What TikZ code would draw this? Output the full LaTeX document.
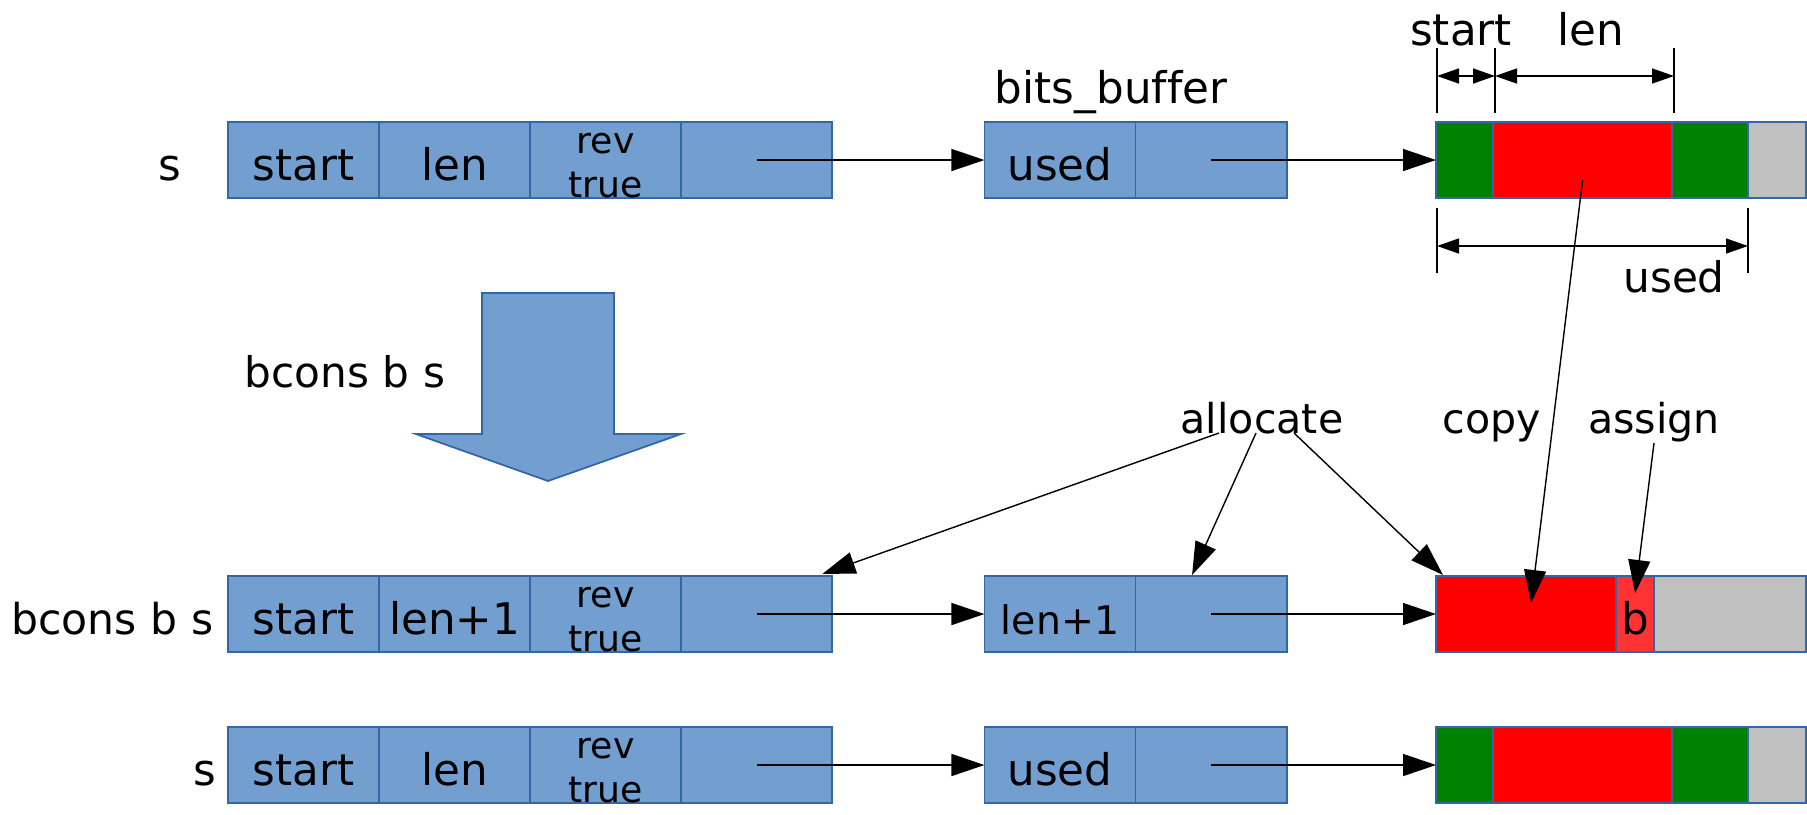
\documentclass[tikz,border=0pt]{standalone}
\usepackage{fontspec}
\setmainfont[Ligatures=NoCommon]{DejaVu Sans}
\usetikzlibrary{arrows.meta,positioning}

\definecolor{boxfill}{HTML}{729FCF}
\definecolor{boxline}{HTML}{3465A4}
\definecolor{bitgreen}{HTML}{008000}
\definecolor{bitred}{HTML}{FF0000}
\definecolor{bitpink}{HTML}{FF3333}
\definecolor{bitgray}{HTML}{C0C0C0}

\tikzset{
    cell/.style = {draw=boxline, fill=boxfill, line width=0.5pt, outer sep=0pt, inner sep=0pt,
                   minimum width=1.51cm, minimum height=0.76cm,
                   text height=0.40cm, text depth=0cm, font=\fontsize{12.4}{15}\selectfont},
    bits/.style = {draw=boxline, line width=0.5pt, outer sep=0pt, inner sep=0pt,
                   minimum height=0.76cm, text height=0.40cm, text depth=0cm,
                   font=\fontsize{12.4}{15}\selectfont},
    lbl/.style = {inner sep=0pt, font=\fontsize{12.4}{15}\selectfont},
    note/.style = {inner sep=0pt, font=\fontsize{11.7}{14}\selectfont},
    smalltext/.style = {inner sep=0pt, font=\fontsize{10.3}{12}\selectfont},
    ptr/.style = {line width=0.4pt, -{Triangle[length=0.33cm, width=0.22cm]}},
    dimline/.style = {line width=0.4pt,
                      {Triangle[length=0.22cm, width=0.15cm]}-{Triangle[length=0.22cm, width=0.15cm]}},
}

\begin{document}
\begin{tikzpicture}[x=0.01cm, y=-0.01cm]
    % Page
    \useasboundingbox (0,0) rectangle (1807,814);

    % Records and their bits_buffer
    \foreach \r/\y/\l/\u in {1/160/len/used, 2/614/len+1/{\fontsize{11.2}{13}\selectfont len+1}, 3/765/len/used} {
        \node[cell] (s\r-start) at (303.5,\y) {start};
        \node[cell, right=0pt of s\r-start] (s\r-len) {\l};
        \node[cell, right=0pt of s\r-len] (s\r-rev) {};
        \node[cell, right=0pt of s\r-rev] (s\r-ptr) {};
        \node[smalltext, anchor=base] (s\r-rev-a) at ([yshift=-0.31cm]s\r-rev.north) {rev};
        \node[smalltext, anchor=base] (s\r-rev-b) at ([yshift=-0.75cm]s\r-rev.north) {true};

        \node[cell] (b\r-used) at (1060,\y) {\u};
        \node[cell, right=0pt of b\r-used] (b\r-ptr) {};
        \draw[ptr] (s\r-ptr.center) -- (b\r-used.west);
    }

    % Bits of s
    \foreach \r/\y in {1/160, 3/765} {
        \node[bits, fill=bitgreen, minimum width=0.57cm, anchor=west] (m\r-a) at (1436,\y) {};
        \node[bits, fill=bitred, minimum width=1.79cm, right=0pt of m\r-a] (m\r-b) {};
        \node[bits, fill=bitgreen, minimum width=0.76cm, right=0pt of m\r-b] (m\r-c) {};
        \node[bits, fill=bitgray, minimum width=0.58cm, right=0pt of m\r-c] (m\r-d) {};
        \draw[ptr] (b\r-ptr.center) -- (m\r-a.west);
    }

    % Bits of bcons b s
    \node[bits, fill=bitred, minimum width=1.80cm, anchor=west] (m2-a) at (1436,614) {};
    \node[bits, fill=bitpink, minimum width=0.38cm, right=0pt of m2-a] (m2-b) {b};
    \node[bits, fill=bitgray, minimum width=1.52cm, right=0pt of m2-b] (m2-c) {};
    \draw[ptr] (b2-ptr.center) -- (m2-a.west);

    % Names
    \node[lbl, anchor=base east] (n1) at (182,180) {s};
    \node[lbl, anchor=base east, font=\fontsize{12.1}{15}\selectfont] (n2) at (214,634) {bcons b s};
    \node[lbl, anchor=base east] (n3) at (217,785) {s};
    \node[lbl, anchor=base] (bbname) at (1111,103) {bits\_buffer};

    % Big arrow
    \node[lbl, anchor=base, font=\fontsize{12}{15}\selectfont] (op) at (345,387) {bcons b s};
    \draw[draw=boxline, fill=boxfill, line width=0.5pt] (482,293) -- (614,293) -- (614,434)
        -- (681,434) -- (548,481) -- (416,434) -- (482,434) -- cycle;

    % Dimensions
    \foreach \x/\a/\b in {1437/48/113, 1495/48/113, 1674/48/113, 1437/208/273, 1748/208/273}
        \draw[line width=0.4pt] (\x,\a) -- (\x,\b);
    \draw[dimline] (1437,76) -- (1495,76);
    \draw[dimline] (1495,76) -- (1674,76);
    \draw[dimline] (1437,246) -- (1748,246);
    \node[lbl, anchor=base] (dstart) at (1461,45) {start};
    \node[lbl, anchor=base] (dlen) at (1591,45) {len};
    \node[lbl, anchor=base, font=\fontsize{12}{15}\selectfont] (dused) at (1674,292) {used};

    % allocate, copy, assign
    \node[note, anchor=base] (alloc) at (1262,433) {allocate};
    \node[note, anchor=base] (copy) at (1492,433) {copy};
    \node[note, anchor=base] (assign) at (1654,433) {assign};

    \draw[ptr] ([xshift=-0.43cm]alloc.base) -- ([xshift=-0.1cm, yshift=0.02cm]s2-ptr.north east);
    \draw[ptr] ([xshift=-0.06cm]alloc.base) -- ([xshift=-0.19cm, yshift=0.01cm]b2-ptr.north);
    \draw[ptr] ([xshift=0.32cm]alloc.base) -- ([xshift=0.07cm, yshift=0.01cm]m2-a.north west);
    \draw[ptr] ([yshift=-0.2cm]m1-b.center) -- ([xshift=0.05cm, yshift=0.11cm]m2-a.center);
    \draw[ptr] ([yshift=-0.1cm]assign.base) -- ([yshift=0.21cm]m2-b.center);
\end{tikzpicture}
\end{document}
